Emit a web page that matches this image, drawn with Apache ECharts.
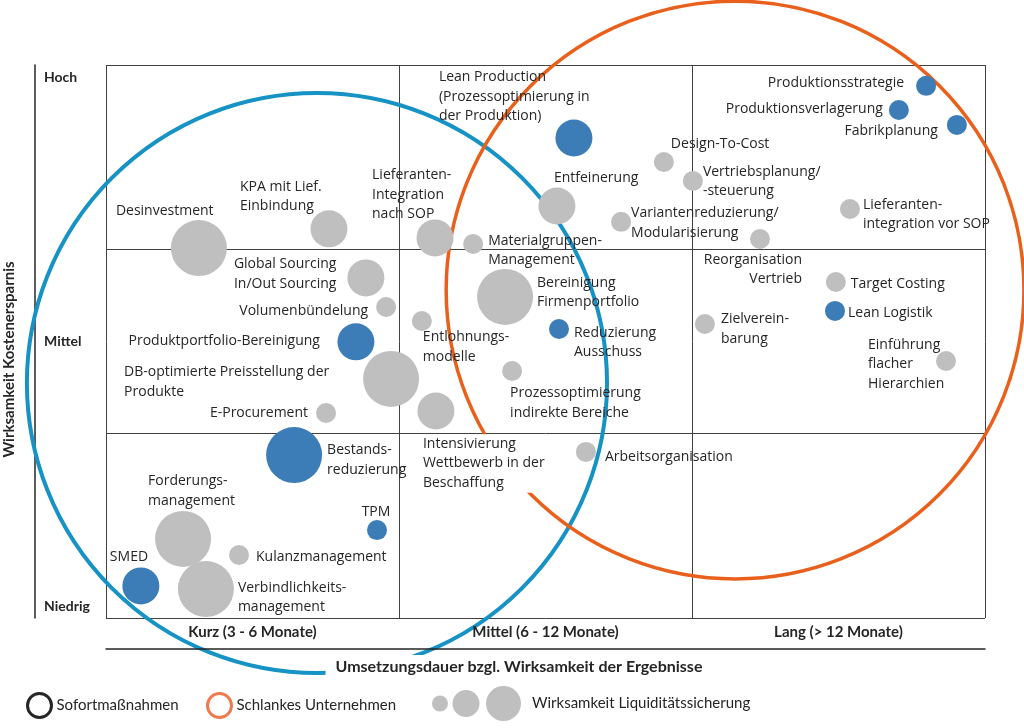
<!DOCTYPE html>
<html><head><meta charset="utf-8">
<script src="https://cdn.jsdelivr.net/npm/echarts@6/dist/echarts.min.js"></script>
<style>html,body{margin:0;padding:0;background:#fff}#c{width:1024px;height:728px}</style>
</head><body><div id="c"></div>
<script>
// ---- data ----
const durationLabels = ['Kurz (3 - 6 Monate)', 'Mittel (6 - 12 Monate)', 'Lang (> 12 Monate)'];
const savingsLabels = ['Niedrig', 'Mittel', 'Hoch'];
const measureNames = [
  'Desinvestment', 'KPA mit Lief.\nEinbindung', 'Global Sourcing\nIn/Out Sourcing', 'Lieferanten-\nIntegration\nnach SOP',
  'Lean Production\n(Prozessoptimierung in\nder Produktion)', 'Design-To-Cost', 'Vertriebsplanung/\n-steuerung', 'Entfeinerung',
  'Variantenreduzierung/\nModularisierung', 'Materialgruppen-\nManagement', 'Reorganisation\nVertrieb', 'Produktionsstrategie',
  'Produktionsverlagerung', 'Fabrikplanung', 'Lieferanten-\nintegration vor SOP', 'Target Costing',
  'Lean Logistik', 'Zielverein-\nbarung', 'Einführung\nflacher\nHierarchien', 'Volumenbündelung',
  'Produktportfolio-Bereinigung', 'DB-optimierte Preisstellung der\nProdukte', 'E-Procurement', 'Bestands-\nreduzierung',
  'Bereinigung\nFirmenportfolio', 'Entlohnungs-\nmodelle', 'Reduzierung\nAusschuss', 'Prozessoptimierung\nindirekte Bereiche',
  'Intensivierung\nWettbewerb in der\nBeschaffung', 'Arbeitsorganisation', 'Forderungs-\nmanagement', 'TPM',
  'SMED', 'Kulanzmanagement', 'Verbindlichkeits-\nmanagement'
];
// Umsetzungsdauer (0..3 = Kurz | Mittel | Lang)
const duration = [0.317, 0.761, 0.887, 1.123, 1.597, 1.904, 2.003, 1.539, 1.758, 1.253, 2.232, 2.799, 2.706, 2.904, 2.539, 2.491,
  2.488, 2.044, 2.867, 0.956, 0.853, 0.973, 0.751, 0.642, 1.362, 1.078, 1.546, 1.386, 1.126, 1.638, 0.263, 0.925, 0.119, 0.454, 0.341];
// Wirksamkeit Kostenersparnis (0..3 = Niedrig | Mittel | Hoch)
const savings = [2.007, 2.111, 1.845, 2.062, 2.604, 2.474, 2.371, 2.235, 2.149, 2.029, 2.056, 2.887, 2.756, 2.675, 2.219, 1.823,
  1.666, 1.595, 1.394, 1.687, 1.498, 1.297, 1.112, 0.884, 1.742, 1.611, 1.568, 1.340, 1.123, 0.901, 0.429, 0.477, 0.174, 0.342, 0.157];
// Wirksamkeit Liquiditätssicherung (1 = gering, 2 = mittel, 3 = hoch)
const liquidity = [3, 2, 2, 2, 2, 1, 1, 2, 1, 1, 1, 1, 1, 1, 1, 1, 1, 1, 1, 1, 2, 3, 1, 3, 3, 1, 1, 1, 2, 1, 3, 1, 2, 1, 3];
// highlighted measures (blue)
const highlighted = [0, 0, 0, 0, 1, 0, 0, 0, 0, 0, 0, 1, 1, 1, 0, 0, 1, 0, 0, 0, 1, 0, 0, 1, 0, 0, 1, 0, 0, 0, 0, 1, 1, 0, 0];
// cluster circles: centre (duration, savings) and radius in duration units
const clusterNames = ['Sofortmaßnahmen', 'Schlankes Unternehmen'];
const clusterX = [0.720, 2.147];
const clusterY = [1.275, 1.779];
const clusterR = [0.990, 0.986];

// ---- label layout (style only): [align, dx, dy] relative to bubble centre ----
const labelLayout = [
  ['left', -83, -37], ['left', -89, -32.5], ['left', -132, -4], ['left', -63, -43],
  ['left', -135, -41], ['left', 7, -18], ['left', 10, 0.5], ['left', -3, -28],
  ['left', 10, 1], ['left', 15, 6.5], ['right', 42, 30.5], ['right', -22, -3],
  ['right', -16, -1], ['right', -19, 6], ['left', 13, 5.5], ['left', 15, 2],
  ['left', 13, 2], ['left', 16, 5], ['left', -78, 3], ['right', -18, 4],
  ['right', -36, -1], ['left', -267, 3], ['right', -18, 0], ['left', 33, 5],
  ['left', 32, -4.5], ['left', 1, 26], ['left', 15, 13.5], ['left', -2, 32],
  ['left', -13, 52.5, true], ['left', 19, 5], ['left', -35, -48], ['center', -1, -18],
  ['left', -31, -29], ['left', 17, 2], ['left', 32, 8.5]
];
const sizeBySymbol = [0, 20, 37, 56];
const GRAY = '#bfbfbf', BLUE = '#3c7db8', CBLUE = '#1693c4', CORANGE = '#e8601c', TXT = '#262626';

const bubbleData = measureNames.map((n, i) => {
  const L = labelLayout[i];
  const lab = { align: L[0], offset: [L[1], L[2]] };
  if (L[3]) lab.backgroundColor = '#ffffff';
  const item = { name: n, value: [duration[i], savings[i], liquidity[i]], label: lab };
  if (highlighted[i]) item.itemStyle = { color: BLUE };
  return item;
});

function circleItem(params, api) {
  const c = api.coord([api.value(0), api.value(1)]);
  const e = api.coord([api.value(0) + api.value(2), api.value(1)]);
  return {
    type: 'circle',
    shape: { cx: c[0], cy: c[1], r: e[0] - c[0] },
    style: { fill: 'none', stroke: api.visual('color'), lineWidth: params.seriesIndex === 1 ? 4 : 3.5 }
  };
}

const boldText = { fontFamily: 'Lato', fontWeight: 'bold', fontSize: 14, color: TXT };
const legendText = { fontFamily: 'Lato', fontSize: 15, color: TXT };

const chart = echarts.init(document.getElementById('c'), null, { renderer: 'canvas' });
chart.setOption({
  animation: false,
  backgroundColor: '#ffffff',
  grid: { left: 106, right: 39, top: 65, bottom: 110, containLabel: false, outerBoundsMode: 'none' },
  xAxis: [
    { type: 'value', min: 0, max: 3, interval: 1, axisLine: { show: false }, axisTick: { show: false },
      axisLabel: { show: false }, splitLine: { show: true, lineStyle: { color: '#404040', width: 1 } } },
    { type: 'category', data: durationLabels, position: 'bottom', offset: 31, z: 5,
      axisLine: { show: true, lineStyle: { color: TXT, width: 1.5 } }, axisTick: { show: false },
      axisLabel: Object.assign({}, boldText, { inside: true, margin: 9, interval: 0, fontSize: 15 }),
      name: 'Umsetzungsdauer bzgl. Wirksamkeit der Ergebnisse', nameLocation: 'middle', nameGap: 4,
      nameTextStyle: Object.assign({}, boldText, { fontSize: 16, backgroundColor: '#ffffff', padding: [4, 63, 4, 10], verticalAlign: 'top' }) }
  ],
  yAxis: [
    { type: 'value', min: 0, max: 3, interval: 1, axisLine: { show: false }, axisTick: { show: false },
      axisLabel: { show: false }, splitLine: { show: true, lineStyle: { color: '#404040', width: 1 } } },
    { type: 'category', data: savingsLabels, boundaryGap: false, position: 'left', offset: 71,
      axisLine: { show: true, lineStyle: { color: TXT, width: 1.5 } }, axisTick: { show: false },
      axisLabel: Object.assign({}, boldText, { inside: true, margin: 9, interval: 0, lineHeight: 24,
        formatter: (v, i) => i === 2 ? '\n' + v : (i === 0 ? v + '\n' : v) }),
      name: 'Wirksamkeit Kostenersparnis', nameLocation: 'middle', nameGap: 18, nameRotate: 90,
      nameTextStyle: Object.assign({}, boldText, { fontSize: 15, padding: [0, 36, 0, 0] }) }
  ],
  legend: [
    { left: 26, top: 692, padding: 0, itemWidth: 24, itemHeight: 24, selectedMode: false, textStyle: legendText,
      data: [{ name: clusterNames[0], icon: 'circle', itemStyle: { color: 'rgba(0,0,0,0)', borderColor: '#262626', borderWidth: 3 } }] },
    { left: 206, top: 692, padding: 0, itemWidth: 24, itemHeight: 24, selectedMode: false, textStyle: legendText,
      data: [{ name: clusterNames[1], icon: 'circle', itemStyle: { color: 'rgba(0,0,0,0)', borderColor: '#ee7b4f', borderWidth: 3 } }] },
    { left: 432, top: 686, padding: 0, itemWidth: 89, itemHeight: 35, selectedMode: false,
      textStyle: Object.assign({ padding: [0, 0, 0, 6] }, legendText),
      data: [{ name: 'Wirksamkeit Liquiditätssicherung',
        icon: 'path://M0,17.5A8,8,0,1,0,16,17.5A8,8,0,1,0,0,17.5Z M20.5,17.5A13.5,13.5,0,1,0,47.5,17.5A13.5,13.5,0,1,0,20.5,17.5Z M54,17.5A17.5,17.5,0,1,0,89,17.5A17.5,17.5,0,1,0,54,17.5Z' }] }
  ],
  series: [
    { type: 'scatter', name: 'Wirksamkeit Liquiditätssicherung', z: 3, data: bubbleData,
      symbolSize: v => sizeBySymbol[v[2]], itemStyle: { color: GRAY, opacity: 1 },
      label: { show: true, position: 'inside', verticalAlign: 'middle', formatter: '{b}',
        fontFamily: 'Open Sans', fontSize: 14, lineHeight: 19.5, color: TXT },
      emphasis: { disabled: true } },
    { type: 'custom', name: clusterNames[0], z: 1, clip: false, renderItem: circleItem,
      itemStyle: { color: CBLUE }, data: [[clusterX[0], clusterY[0], clusterR[0]]], silent: true },
    { type: 'custom', name: clusterNames[1], z: 1, clip: false, renderItem: circleItem,
      itemStyle: { color: CORANGE }, data: [[clusterX[1], clusterY[1], clusterR[1]]], silent: true }
  ]
});
</script></body></html>
